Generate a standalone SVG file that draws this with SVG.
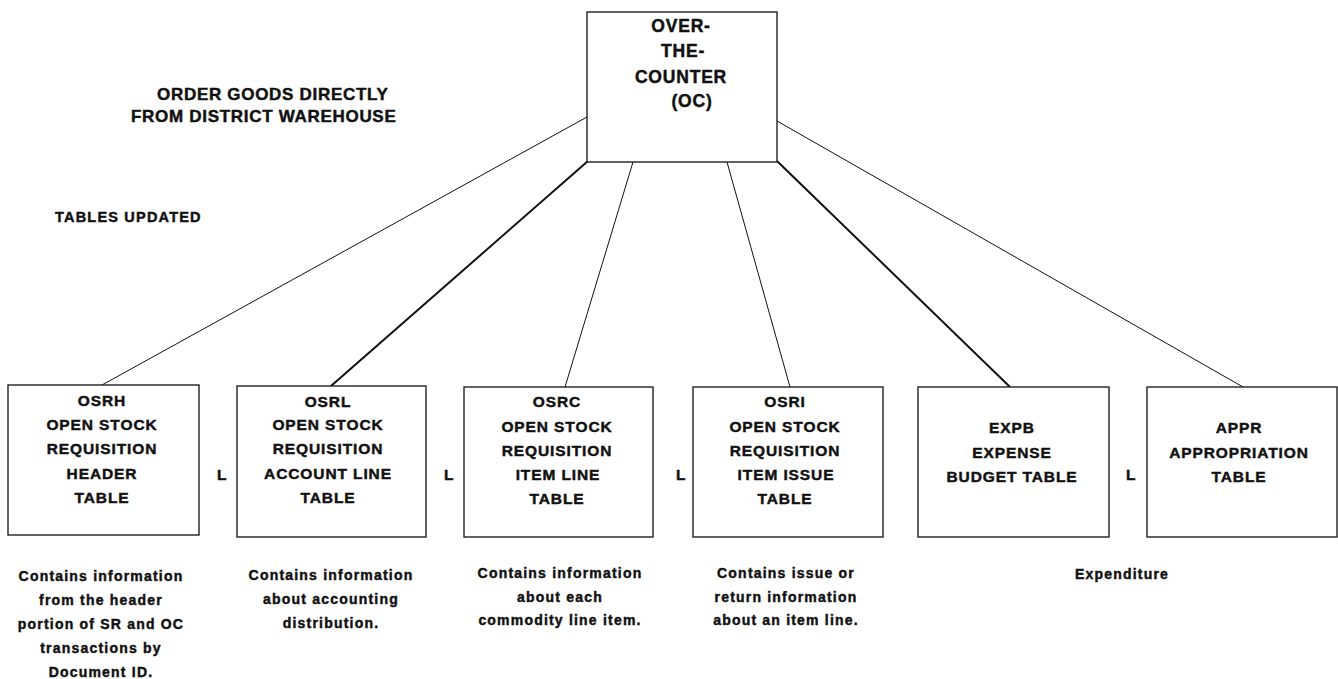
<svg xmlns="http://www.w3.org/2000/svg" width="1338" height="679" viewBox="0 0 1338 679">
<style>
.box{fill:#fff;stroke:#222;stroke-width:1.4}
.t{font-family:"Liberation Sans",Arial,sans-serif;font-weight:bold;fill:#111;stroke:#111;stroke-width:0.45}
.bt{font-size:15.5px;letter-spacing:0.9px;text-anchor:middle}
.top{font-size:17.5px;letter-spacing:0.8px;text-anchor:middle}
.hd{font-size:17px;letter-spacing:0.7px}
.d{font-size:14px;letter-spacing:1.2px;text-anchor:middle}
.thin{stroke:#111;stroke-width:1;fill:none}
.thick{stroke:#111;stroke-width:2;fill:none}
</style>
<rect width="1338" height="679" fill="#fff"/>
<g id="connectors">
<line class="thin" x1="587" y1="117" x2="102" y2="385"/>
<line class="thick" x1="588" y1="161" x2="331" y2="386"/>
<line class="thin" x1="633" y1="162" x2="565" y2="387"/>
<line class="thin" x1="727" y1="162" x2="790" y2="387"/>
<line class="thick" x1="777" y1="161" x2="1010" y2="387"/>
<line class="thin" x1="777" y1="121" x2="1243" y2="387"/>
</g>
<g id="oc">
<rect class="box" x="587" y="12" width="190" height="150"/>
<text class="t top" x="681" y="32">OVER-</text>
<text class="t top" x="683" y="57">THE-</text>
<text class="t top" x="681" y="83">COUNTER</text>
<text class="t top" x="692" y="107">(OC)</text>
</g>
<g id="heading">
<text class="t hd" x="157" y="100">ORDER GOODS DIRECTLY</text>
<text class="t hd" x="131" y="122">FROM DISTRICT WAREHOUSE</text>
<text class="t" x="55" y="222" style="font-size:14.5px;letter-spacing:1.2px">TABLES UPDATED</text>
</g>
<g id="osrh">
<rect class="box" x="8" y="385" width="191" height="150"/>
<text class="t bt" x="102" y="406">OSRH</text>
<text class="t bt" x="102" y="430">OPEN STOCK</text>
<text class="t bt" x="102" y="454">REQUISITION</text>
<text class="t bt" x="102" y="479">HEADER</text>
<text class="t bt" x="102" y="503">TABLE</text>
</g>
<g id="osrl">
<rect class="box" x="237" y="386" width="189" height="151"/>
<text class="t bt" x="328" y="407">OSRL</text>
<text class="t bt" x="328" y="430">OPEN STOCK</text>
<text class="t bt" x="328" y="454">REQUISITION</text>
<text class="t bt" x="328" y="479">ACCOUNT LINE</text>
<text class="t bt" x="328" y="503">TABLE</text>
</g>
<g id="osrc">
<rect class="box" x="464" y="387" width="189" height="150"/>
<text class="t bt" x="557" y="407">OSRC</text>
<text class="t bt" x="557" y="432">OPEN STOCK</text>
<text class="t bt" x="557" y="456">REQUISITION</text>
<text class="t bt" x="558" y="480">ITEM LINE</text>
<text class="t bt" x="557" y="504">TABLE</text>
</g>
<g id="osri">
<rect class="box" x="693" y="387" width="190" height="150"/>
<text class="t bt" x="785" y="407">OSRI</text>
<text class="t bt" x="785" y="432">OPEN STOCK</text>
<text class="t bt" x="785" y="456">REQUISITION</text>
<text class="t bt" x="786" y="480">ITEM ISSUE</text>
<text class="t bt" x="785" y="504">TABLE</text>
</g>
<g id="expb">
<rect class="box" x="918" y="387" width="191" height="150"/>
<text class="t bt" x="1012" y="433">EXPB</text>
<text class="t bt" x="1012" y="458">EXPENSE</text>
<text class="t bt" x="1012" y="482">BUDGET TABLE</text>
</g>
<g id="appr">
<rect class="box" x="1147" y="387" width="190" height="150"/>
<text class="t bt" x="1239" y="433">APPR</text>
<text class="t bt" x="1239" y="458">APPROPRIATION</text>
<text class="t bt" x="1239" y="482">TABLE</text>
</g>
<g id="link-labels">
<text class="t" x="217" y="480" style="font-size:15.5px">L</text>
<text class="t" x="444" y="480" style="font-size:15.5px">L</text>
<text class="t" x="676" y="480" style="font-size:15.5px">L</text>
<text class="t" x="1126" y="480" style="font-size:15.5px">L</text>
</g>
<g id="descriptions">
<text class="t d" x="101" y="581">Contains information</text>
<text class="t d" x="101" y="605">from the header</text>
<text class="t d" x="101" y="629">portion of SR and OC</text>
<text class="t d" x="101" y="653">transactions by</text>
<text class="t d" x="101" y="677">Document ID.</text>
<text class="t d" x="331" y="580">Contains information</text>
<text class="t d" x="331" y="604">about accounting</text>
<text class="t d" x="331" y="628">distribution.</text>
<text class="t d" x="560" y="578">Contains information</text>
<text class="t d" x="560" y="602">about each</text>
<text class="t d" x="560" y="625">commodity line item.</text>
<text class="t d" x="786" y="578">Contains issue or</text>
<text class="t d" x="786" y="602">return information</text>
<text class="t d" x="786" y="625">about an item line.</text>
<text class="t d" x="1122" y="579">Expenditure</text>
</g>
</svg>
